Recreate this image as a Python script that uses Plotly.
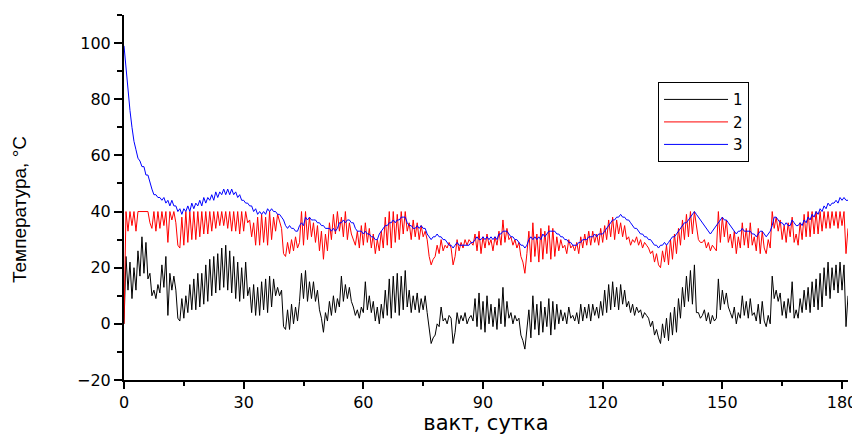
import numpy as np
import plotly.graph_objects as go

# sampling step of the records (half a day)
step = 0.5

series1 = [
 0,24,12,22,9,20,12,26,17,31,18,29,16,18,10,12,9,14,11,21,
 13,24,3,18,12,17,12,2,1,9,2,10,4,14,5,16,5,18,6,18,
 7,21,8,23,10,24,11,25,12,27,13,28,12,26,11,24,9,22,8,20,
 9,22,10,13,4,14,3,13,3,15,5,16,4,17,6,16,10,13,10,12,
 -1,-2,5,-2,7,0,6,1,8,18,9,19,8,15,9,15,8,12,5,2,
 -3,4,1,8,3,10,4,9,6,17,8,14,9,13,8,6,3,5,2,6,
 4,15,5,10,4,8,1,6,0,7,2,12,3,16,2,17,4,18,3,17,
 5,19,6,12,4,10,5,11,4,9,5,10,4,-2,-7,-5,-4,0,-1,6,
 1,2,0,3,2,-7,-3,4,0,3,1,4,0,2,3,1,9,-1,11,-2,
 8,-3,10,0,7,-1,6,-2,9,0,13,-1,8,2,4,0,3,1,2,-4,
 -6,-9,-3,5,-5,10,-2,7,-4,8,-3,6,-1,9,-4,8,-2,7,0,5,
 1,4,0,6,2,3,1,4,0,7,1,6,2,7,1,7,3,6,2,8,
 3,12,4,14,5,15,6,13,5,14,7,12,6,8,4,7,3,6,4,5,
 2,4,3,2,-1,1,-4,-2,-5,-7,0,-5,2,-6,4,-4,6,-3,9,2,
 13,6,17,8,19,7,21,4,4,2,3,5,1,4,0,3,1,2,16,5,
 12,7,11,6,4,2,6,0,4,2,10,3,8,2,9,3,4,1,7,0,
 8,1,-1,3,0,17,9,12,8,11,3,8,2,9,4,15,2,5,2,9,
 4,12,5,13,4,15,6,16,5,18,6,20,10,22,9,20,12,21,11,22,
 12,21,-1,10,
]

series2 = [
 0,40,33,40,35,40,33,40,40,40,40,40,40,36,34,40,33,40,34,40,
 35,40,29,40,37,40,36,28,27,38,28,40,29,40,30,40,30,40,31,40,
 32,40,32,40,33,40,34,40,35,40,35,40,34,40,33,40,33,40,32,40,
 33,40,36,37,31,36,28,38,28,39,29,38,28,40,30,38,33,39,36,34,
 25,24,29,25,30,26,31,27,29,40,28,40,30,38,31,36,29,35,26,33,
 23,32,26,36,30,39,32,40,33,38,31,40,30,36,32,30,28,33,27,35,
 28,36,29,34,27,32,25,30,26,33,27,38,28,40,27,40,29,39,30,40,
 32,40,33,36,30,37,31,36,30,35,31,33,30,24,21,23,24,28,25,30,
 26,28,27,29,27,21,24,30,26,29,27,30,28,30,29,28,32,26,33,25,
 31,27,32,28,30,26,31,28,33,28,37,29,34,30,31,28,30,27,29,24,
 22,18,25,33,22,36,24,32,22,34,23,33,25,35,23,34,24,31,26,30,
 27,28,25,30,27,28,26,29,25,31,27,32,28,33,28,33,29,32,28,34,
 29,35,30,37,31,38,30,37,32,36,31,35,30,31,28,30,29,31,28,30,
 27,29,28,27,25,26,22,25,21,20,26,22,28,21,30,23,32,25,34,28,
 37,30,39,31,40,32,40,34,30,29,29,30,27,29,26,28,27,26,40,29,
 38,31,37,29,32,27,33,25,31,27,36,28,34,27,36,28,31,26,34,25,
 33,27,25,30,27,40,34,38,33,37,30,35,29,36,31,38,29,32,28,36,
 30,39,31,40,31,40,32,40,32,40,33,40,34,40,34,40,35,40,34,40,
 35,40,25,34,
]

series3 = [
 99,91,84,76,70,65,62,59,58,56,56,53,53,50,48,46,46,45,45,44,
 45,43,44,42,44,42,42,40,41,39,41,40,42,40,43,41,43,42,44,42,
 45,43,45,44,46,44,47,45,47,46,48,46,48,46,48,46,47,45,46,44,
 44,43,43,42,42,40,41,39,40,39,40,39,41,40,41,40,40,39,39,38,
 37,35,34,35,34,34,33,33,35,36,35,38,37,38,37,37,37,36,36,35,
 35,34,34,34,33,34,33,34,36,36,37,36,37,37,36,36,34,33,33,33,
 32,33,32,32,31,31,30,30,32,33,34,35,35,36,36,37,36,37,37,38,
 38,38,36,35,35,34,34,35,34,35,34,34,32,31,30,31,31,32,31,31,
 30,30,29,28,28,27,28,29,28,28,28,28,28,28,29,29,30,31,30,30,
 31,30,31,30,31,30,31,30,32,32,33,33,33,32,31,31,30,30,29,28,
 28,27,28,30,31,30,31,30,31,30,32,31,32,33,33,33,33,32,32,31,
 31,30,30,29,29,28,28,28,29,29,30,30,30,31,31,31,32,31,32,32,
 32,33,34,35,36,37,37,38,38,39,38,38,37,37,36,35,34,34,33,32,
 32,31,31,30,30,29,28,28,27,28,28,29,28,29,30,31,31,32,33,34,
 35,36,36,37,38,39,40,39,38,37,36,35,34,33,32,33,34,35,36,37,
 38,37,37,36,35,34,33,32,33,33,34,33,33,33,33,32,32,31,32,33,
 33,32,31,32,33,35,38,38,37,36,36,35,36,35,35,37,36,35,35,36,
 35,37,36,38,37,39,38,40,39,41,40,42,41,43,42,43,43,44,43,45,
 44,45,44,44,
]

names = ["1", "2", "3"]
colors = ["#000000", "#ff0000", "#0000ff"]

x_ticks = [0, 30, 60, 90, 120, 150, 180]
y_ticks = [-20, 0, 20, 40, 60, 80, 100]

fig = go.Figure()
for name, vals, col in zip(names, [series1, series2, series3], colors):
    days = np.arange(len(vals)) * step
    fig.add_trace(go.Scatter(x=days, y=vals, mode="lines", name=name,
                             line=dict(color=col, width=1)))

tickfont = dict(family="DejaVu Sans", size=16, color="#000000")

fig.update_layout(
    width=852, height=427,
    margin=dict(l=116, r=12, t=7, b=55, autoexpand=False),
    paper_bgcolor="white", plot_bgcolor="white",
    showlegend=True,
    legend=dict(x=0.7376, y=0.816, xanchor="left", yanchor="top",
                bordercolor="#000000", borderwidth=1, bgcolor="white",
                font=dict(family="DejaVu Sans", size=15, color="#000000"),
                itemwidth=64, tracegroupgap=0),
    xaxis=dict(range=[0, 181.5], tickvals=x_ticks, ticks="outside", ticklen=7,
               tickwidth=1.5, tickcolor="#000000", automargin=False,
               minor=dict(dtick=15, tick0=0, ticks="outside", ticklen=4,
                          tickwidth=1.5, tickcolor="#000000"),
               showline=True, linecolor="#000000", linewidth=2,
               showgrid=False, zeroline=False, tickfont=tickfont,
               title=dict(text="вакт, сутка", standoff=4,
                          font=dict(family="DejaVu Sans", size=21, color="#000000"))),
    yaxis=dict(range=[-20, 110], tickvals=y_ticks, ticks="outside", ticklen=8,
               tickwidth=1.5, tickcolor="#000000", automargin=False,
               minor=dict(dtick=10, tick0=0, ticks="outside", ticklen=5,
                          tickwidth=1.5, tickcolor="#000000"),
               showline=True, linecolor="#000000", linewidth=2,
               showgrid=False, zeroline=False, tickfont=tickfont),
    annotations=[dict(text="Температура, °C", textangle=-90, showarrow=False,
                      xref="paper", yref="paper", x=0, y=0.4658,
                      xshift=-104, xanchor="center", yanchor="middle",
                      font=dict(family="Liberation Sans Narrow, Liberation Sans",
                                size=19, color="#000000"))],
)

fig.write_html("out.html")
